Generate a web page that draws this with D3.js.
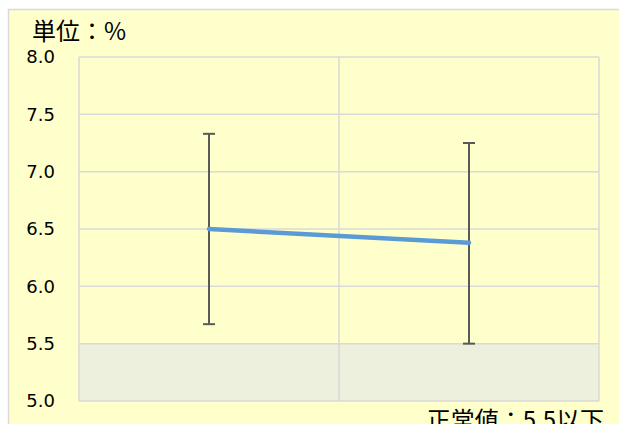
<!DOCTYPE html>
<html><head><meta charset="utf-8">
<script src="https://cdn.jsdelivr.net/npm/d3@7"></script>
<style>body{margin:0;background:#fff;}svg{display:block;}</style>
</head><body>
<svg id="c" width="619" height="424"></svg>
<script>
const categories = ["A", "B"];
const means = [6.50, 6.38];
const upper = [7.33, 7.25];
const lower = [5.67, 5.50];
const yTicks = [5.0, 5.5, 6.0, 6.5, 7.0, 7.5, 8.0];
const normalRange = [5.0, 5.5];
const unitLabel = "単位：%";
const normalLabel = "正常値：5.5以下";

const svg = d3.select("#c");
const W = 619, H = 424;
const m = {left: 79, right: 599, top: 57, bottom: 401};
const cjk = "'Noto Sans CJK JP', sans-serif";
const num = "'DejaVu Sans', sans-serif";

// chart area background
svg.append("rect").attr("x", 8.5).attr("y", 9.5).attr("width", W).attr("height", H)
  .attr("fill", "#FFFFCC").attr("stroke", "#D9D9D9").attr("stroke-width", 1.5);

const x = d3.scaleBand().domain(categories).range([m.left, m.right]);
const y = d3.scaleLinear().domain([5, 8]).range([m.bottom, m.top]);

// normal range band
svg.append("rect").attr("x", m.left).attr("width", m.right - m.left)
  .attr("y", y(normalRange[1])).attr("height", y(normalRange[0]) - y(normalRange[1]))
  .attr("fill", "#EDF0DC");

// horizontal grid
svg.append("g").selectAll("line").data(yTicks).join("line")
  .attr("x1", m.left).attr("x2", m.right)
  .attr("y1", d => y(d)).attr("y2", d => y(d))
  .attr("stroke", "#D9D9D9").attr("stroke-width", 1.5);

// vertical grid (band boundaries)
const bounds = categories.map(c => x(c)).concat([m.right]);
svg.append("g").selectAll("line").data(bounds).join("line")
  .attr("x1", d => d).attr("x2", d => d)
  .attr("y1", m.top).attr("y2", m.bottom)
  .attr("stroke", "#D9D9D9").attr("stroke-width", 1.5);

// y axis labels
const yAxis = d3.axisLeft(y).tickValues(yTicks).tickFormat(d3.format(".1f")).tickSize(0).tickPadding(0);
const ga = svg.append("g").attr("transform", `translate(${m.left - 24},0)`).call(yAxis);
ga.select(".domain").remove();
ga.selectAll("text").attr("font-family", num).attr("font-size", 18).attr("fill", "#000")
  .attr("text-anchor", "end");

const cx = c => x(c) + x.bandwidth() / 2;

// error bars
const eb = svg.append("g").attr("stroke", "#595959").attr("stroke-width", 2);
categories.forEach((c, i) => {
  eb.append("line").attr("x1", cx(c)).attr("x2", cx(c)).attr("y1", y(upper[i])).attr("y2", y(lower[i]));
  eb.append("line").attr("x1", cx(c) - 6).attr("x2", cx(c) + 6).attr("y1", y(upper[i])).attr("y2", y(upper[i]));
  eb.append("line").attr("x1", cx(c) - 6).attr("x2", cx(c) + 6).attr("y1", y(lower[i])).attr("y2", y(lower[i]));
});

// mean line
const line = d3.line().x((d, i) => cx(categories[i])).y(d => y(d));
svg.append("path").datum(means).attr("d", line).attr("fill", "none")
  .attr("stroke", "#5B9BD5").attr("stroke-width", 4.5).attr("stroke-linecap", "round");

// texts
svg.append("text").attr("x", 32).attr("y", 40).text(unitLabel)
  .attr("font-family", cjk).attr("font-size", 24).attr("fill", "#000");
svg.append("text").attr("x", 604).attr("y", 429).attr("text-anchor", "end").text(normalLabel)
  .attr("font-family", cjk).attr("font-size", 24).attr("fill", "#000");
</script>
</body></html>
